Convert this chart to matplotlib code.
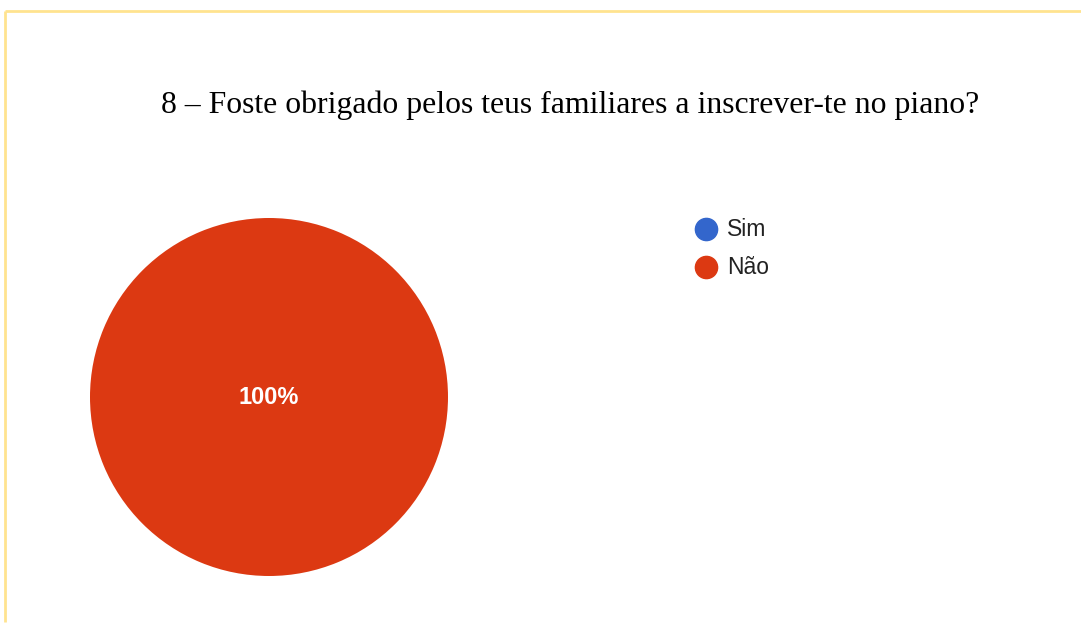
import matplotlib
matplotlib.use("Agg")
import matplotlib.pyplot as plt

# Survey answers for question 8
categories = ["Sim", "Não"]
counts = [0, 1]
colors = ["#3366CC", "#DC3912"]
title = "8 – Foste obrigado pelos teus familiares a inscrever-te no piano?"

W, H = 1081, 625
fig = plt.figure(figsize=(W / 100, H / 100), dpi=100)
fig.patch.set_facecolor("white")


def px(x0, y0, w, h):
    """Pixel box (top-left origin) -> figure fraction rect."""
    return [x0 / W, 1 - (y0 + h) / H, w / W, h / H]


# overlay axes in pixel units for frame, title and legend
frame = fig.add_axes([0, 0, 1, 1])
frame.set_xlim(0, W)
frame.set_ylim(H, 0)
frame.axis("off")
frame.plot([5, W], [11, 11], color="#FFE38F", lw=2, solid_capstyle="butt")
frame.plot([5, 5], [11, 622], color="#FFE38F", lw=2, solid_capstyle="butt")

frame.text(570, 105, title, ha="center", va="center",
           fontsize=22.9, family="Liberation Serif", color="black")

# legend: round markers stacked on the right
for i, (name, col) in enumerate(zip(categories, colors)):
    y = 229 + 38 * i
    frame.plot(706, y, marker="o", markersize=16, color=col, linestyle="none")
    frame.text(727, y, name, ha="left", va="center", fontsize=16.5,
               family="Liberation Sans", color="#222222")

# pie
cx, cy, r = 269, 397, 179
ax = fig.add_axes(px(cx - r, cy - r, 2 * r, 2 * r))
total = sum(counts)
wedges, _ = ax.pie(counts, colors=colors, startangle=90, counterclock=False,
                   radius=1.0, wedgeprops=dict(linewidth=0))
for w, c in zip(wedges, counts):
    if c == 0:
        continue
    ax.text(0, 0, f"{c / total * 100:.0f}%", ha="center", va="center",
            color="white", fontsize=17, fontweight="bold", family="Liberation Sans")
ax.set_xlim(-1, 1)
ax.set_ylim(-1, 1)
ax.set_aspect("equal")
ax.axis("off")

fig.savefig("out.png", dpi=100)
